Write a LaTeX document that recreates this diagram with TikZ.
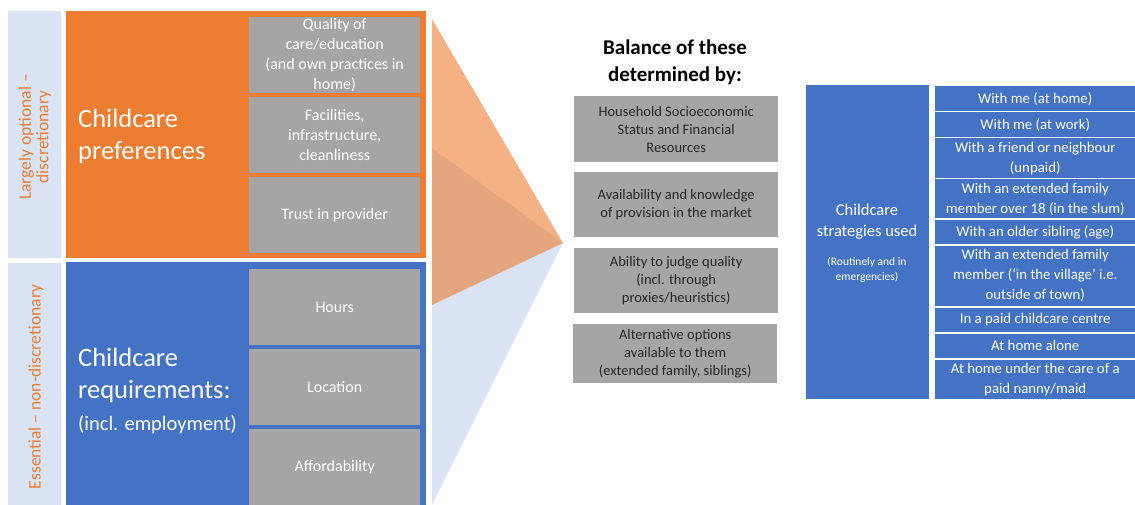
\documentclass[tikz,border=0pt]{standalone}
\usepackage{fontspec}
\setmainfont{Carlito}
\usetikzlibrary{positioning}
\definecolor{cOrange}{RGB}{237,125,49}
\definecolor{cBlue}{RGB}{68,114,196}
\definecolor{cGray}{RGB}{165,165,165}
\definecolor{cPale}{RGB}{218,227,243}
\definecolor{cInk}{RGB}{38,38,38}
\tikzset{
    strip/.style={fill=cPale, inner sep=0pt, minimum width=53pt, anchor=north west},
    bigbox/.style={inner sep=0pt, minimum width=360pt, anchor=north west},
    stripText/.style={rotate=90, text=cOrange, align=center, font=\fontsize{17.5}{17.5}\selectfont},
    bigText/.style={anchor=west, inner sep=0pt, text=white, align=left, font=\fontsize{26.5}{32}\selectfont},
    factor/.style={fill=cGray, inner sep=0pt, anchor=north west, minimum width=171pt, minimum height=76pt, text=white, align=center, font=\fontsize{16}{20}\selectfont},
    driver/.style={fill=cGray, inner sep=0pt, anchor=north west, minimum width=204pt, text=cInk, align=center, font=\fontsize{14.5}{18}\selectfont},
    option/.style={fill=cBlue, draw=white, line width=1.5pt, inner sep=0pt, anchor=north west, minimum width=203pt, text=white, align=center, font=\fontsize{14.8}{20}\selectfont}
}
\begin{document}
\begin{tikzpicture}[x=1pt,y=-1pt]
\useasboundingbox (0,0) rectangle (1135,505);
% side strips
\node[strip, minimum height=247pt] (optStrip) at (8,11) {};
\node[strip, minimum height=242pt] (essStrip) at (8,263) {};
\node[stripText] (optText) at (35,137) {Largely optional --\\discretionary};
\node[stripText] (essText) at (36,387) {Essential -- non-discretionary};
% preferences and requirements
\node[bigbox, fill=cOrange, minimum height=247pt] (prefBox) at (66,11) {};
\node[bigbox, fill=cBlue, minimum height=243pt] (reqBox) at (66,262) {};
\node[bigText] (prefText) at (78,136) {Childcare\\preferences};
\node[bigText] (reqText) at (78,391) {Childcare\\requirements:\\{\fontsize{20.5}{30}\selectfont (incl. employment)}};
\node[factor] (quality) at (249,17) {Quality of\\care/education\\(and own practices in\\home)};
\node[factor] (facilities) at (249,97) {Facilities,\\infrastructure,\\cleanliness};
\node[factor] (trust) at (249,177) {Trust in provider};
\node[factor] (hours) at (249,269) {Hours};
\node[factor] (location) at (249,349) {Location};
\node[factor] (afford) at (249,429) {Affordability};
% funnel
\coordinate (apex) at (563,243);
\fill[cPale] (432,148) -- (apex) -- (432,505) -- cycle;
\fill[cOrange, fill opacity=0.6] (432,19) -- (apex) -- (432,305) -- cycle;
% drivers
\node[align=center, text=black, font=\bfseries\fontsize{21}{27}\selectfont] (balance) at (675,62) {Balance of these\\determined by:};
\node[driver, minimum height=66pt] (status) at (574,96) {Household Socioeconomic\\Status and Financial\\Resources};
\node[driver, minimum height=65pt] (avail) at (574,172) {Availability and knowledge\\of provision in the market};
\node[driver, minimum height=65pt] (judge) at (574,248) {Ability to judge quality\\(incl. through\\proxies/heuristics)};
\node[driver, minimum height=59pt] (altern) at (573,324) {Alternative options\\available to them\\(extended family, siblings)};
% strategies
\node[fill=cBlue, inner sep=0pt, anchor=north west, minimum width=123pt, minimum height=314pt] (stratBox) at (806,85) {};
\node[align=center, text=white, font=\fontsize{16.5}{21}\selectfont] (stratText) at (867,222) {Childcare\\strategies used};
\node[align=center, text=white, font=\fontsize{11.5}{15}\selectfont] (stratNote) at (867,270) {(Routinely and in\\emergencies)};
\node[option, minimum height=26pt] (meHome) at (933,85) {With me (at home)};
\node[option, minimum height=26pt] (meWork) at (933,111) {With me (at work)};
\node[option, minimum height=41pt] (friend) at (933,137) {With a friend or neighbour\\(unpaid)};
\node[option, minimum height=40.5pt] (famSlum) at (933,178) {With an extended family\\member over 18 (in the slum)};
\node[option, minimum height=25.5pt] (sibling) at (933,218.5) {With an older sibling (age)};
\node[option, minimum height=62pt] (famVillage) at (933,244) {With an extended family\\member (‘in the village’ i.e.\\outside of town)};
\node[option, minimum height=26pt] (centre) at (933,306) {In a paid childcare centre};
\node[option, minimum height=26pt] (alone) at (933,332) {At home alone};
\node[option, minimum height=41pt] (nanny) at (933,358) {At home under the care of a\\paid nanny/maid};
\end{tikzpicture}
\end{document}
